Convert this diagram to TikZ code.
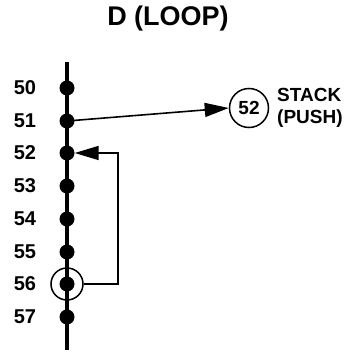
\documentclass[tikz,border=0pt]{standalone}
\usepackage{fontspec}
\setmainfont{Liberation Sans}
\usetikzlibrary{arrows.meta}
\begin{document}
\begin{tikzpicture}[x=1pt,y=-1pt,
  dot/.style={circle,fill=black,inner sep=0pt,minimum size=15pt},
  lab/.style={font=\bfseries\fontsize{20}{20}\selectfont,inner sep=0pt},
  conn/.style={line width=1.6pt,-{Triangle[length=24pt,width=14pt]}}]
\useasboundingbox (0,0) rectangle (349,353);
\node[font=\bfseries\fontsize{27}{27}\selectfont,inner sep=0pt] (title) at (168,19) {D (LOOP)};
\coordinate (top) at (67,62);
\coordinate (bot) at (67,350);
\draw[line width=3.6pt] (top) -- (bot);
\foreach \n/\y in {50/88,51/121,52/153,53/186,54/219,55/252,56/284,57/317}{
  \node[dot] (d\n) at (67,\y) {};
  \node[lab] (l\n) at (25,\y) {\n};
}
\node[circle,draw,line width=1.5pt,minimum size=32pt,inner sep=0pt] (c56) at (67,284) {};
\node[circle,draw,line width=1.5pt,minimum size=39pt,inner sep=0pt,font=\bfseries\fontsize{19}{19}\selectfont] (s52) at (249,108) {52};
\node[lab,align=left,anchor=west,font=\bfseries\fontsize{19}{19}\selectfont] (stack) at (277,108) {STACK\\[3pt](PUSH)};
\draw[conn] (d51.center) -- (s52.west);
\coordinate (lc) at (118,284);
\coordinate (ltop) at (118,153);
\draw[conn] (c56.east) -- (lc) -- (ltop) -- (d52.east);
\end{tikzpicture}
\end{document}
